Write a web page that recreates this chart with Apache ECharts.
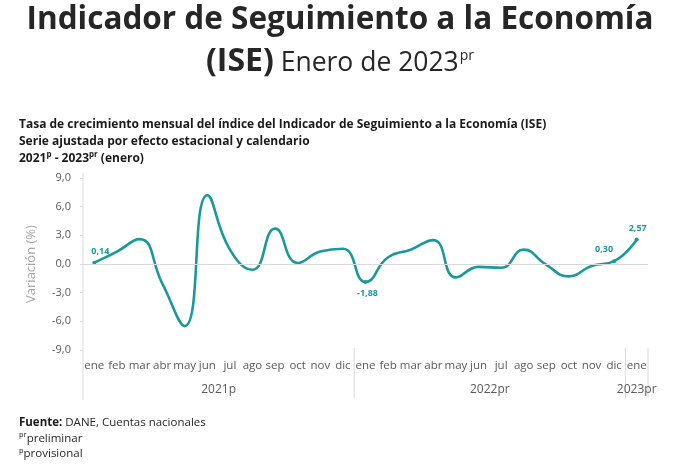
<!DOCTYPE html>
<html><head><meta charset="utf-8">
<script src="https://cdn.jsdelivr.net/npm/echarts@6/dist/echarts.min.js"></script>
<style>html,body{margin:0;padding:0;background:#fff}#c{width:680px;height:468px}</style>
</head><body><div id="c"></div>
<script>
// ---- data ----
const months = ['ene','feb','mar','abr','may','jun','jul','ago','sep','oct','nov','dic',
                'ene','feb','mar','abr','may','jun','jul','ago','sep','oct','nov','dic','ene'];
const values2021 = [0.14, 1.3, 2.6, -2.0, -6.5, 7.2, 1.5, -0.6, 3.7, 0.1, 1.3, 1.6];
const values2022 = [-1.88, 0.7, 1.5, 2.5, -1.4, -0.3, -0.4, 1.5, -0.1, -1.3, -0.2, 0.30];
const values2023 = [2.57];
const yearLabels = ['2021p', '2022pr', '2023pr'];
const yearFirst = [0, 12, 24];
const yearLast = [11, 23, 24];
const labeledIdx = [0, 12, 23, 24];
const yTicks = [-9, 9, 3]; // min, max, interval

const values = values2021.concat(values2022, values2023);
const teal = '#19999b';
const labelPos = {0: ['top', [6, 0]], 12: ['bottom', [2, 0]], 23: ['top', [-10, 0]], 24: ['top', [1, 0]]};

const seriesData = values.map((v, i) => {
  if (labeledIdx.includes(i)) {
    return {value: v, symbolSize: 4,
      label: {show: true, position: labelPos[i][0], offset: labelPos[i][1],
        formatter: (p) => p.value.toFixed(2).replace('.', ','),
        color: teal, fontWeight: 'bold', fontSize: 9, fontFamily: 'Open Sans'}};
  }
  return {value: v, symbolSize: 0};
});

const chart = echarts.init(document.getElementById('c'));
const gridLeft = 83, gridTop = 178, gridW = 565, gridH = 172;
const F = 'Open Sans';
chart.setOption({
  animation: false,
  textStyle: {fontFamily: F},
  title: [
    {text: 'Indicador de Seguimiento a la Economía', left: 'center', top: 4, padding: 0,
     textStyle: {fontSize: 31.5, fontWeight: 'bold', color: '#262626', fontFamily: F}},
    {text: '{b|(ISE)}{n| Enero de 2023}{s|pr}', left: 'center', top: 38, padding: 0,
     textStyle: {fontWeight: 'normal', rich: {
       b: {fontSize: 32, fontWeight: 'bold', color: '#262626', fontFamily: F, verticalAlign: 'bottom', lineHeight: 40},
       n: {fontSize: 26.5, fontWeight: 'normal', color: '#262626', fontFamily: F, verticalAlign: 'bottom', lineHeight: 40, padding: [0, 0, 1, 0]},
       s: {fontSize: 14, fontWeight: 'normal', color: '#262626', fontFamily: F, verticalAlign: 'bottom', lineHeight: 20, padding: [0, 0, 15, 1]}}}},
    {text: '{t|Tasa de crecimiento mensual del índice del Indicador de Seguimiento a la Economía (ISE)}\n{t|Serie ajustada por efecto estacional y calendario}\n{t|2021}{s|p}{t| - 2023}{s|pr}{t| (enero)}',
     left: 19, top: 116, padding: 0,
     textStyle: {rich: {
       t: {fontSize: 12, fontWeight: 'bold', color: '#1a1a1a', fontFamily: F, lineHeight: 17},
       s: {fontSize: 8, fontWeight: 'bold', color: '#1a1a1a', fontFamily: F, lineHeight: 17, padding: [0, 0, 7, 0]}}}},
    {text: '{b|Fuente:}{n| DANE, Cuentas nacionales}\n{s|pr}{n|preliminar}\n{s|p}{n|provisional}',
     left: 19, top: 415, padding: 0,
     textStyle: {fontWeight: 'normal', rich: {
       b: {fontSize: 11.5, fontWeight: 'bold', color: '#1a1a1a', fontFamily: F, lineHeight: 15.5},
       n: {fontSize: 11.5, fontWeight: 'normal', color: '#262626', fontFamily: F, lineHeight: 15.5},
       s: {fontSize: 7.5, fontWeight: 'normal', color: '#262626', fontFamily: F, lineHeight: 15.5, padding: [0, 0, 6, 0]}}}}
  ],
  grid: {left: gridLeft, top: gridTop, width: gridW, height: gridH},
  xAxis: {
    type: 'category', data: months, boundaryGap: true,
    axisLine: {show: false}, axisTick: {show: false},
    axisLabel: {color: '#595959', fontSize: 11.5, margin: 10, interval: 0}
  },
  yAxis: {
    type: 'value', min: yTicks[0], max: yTicks[1], interval: yTicks[2],
    name: 'Variación (%)', nameLocation: 'middle', nameGap: 45, nameRotate: 90,
    nameTextStyle: {color: '#a6a6a6', fontSize: 13},
    axisLine: {show: false},
    axisTick: {show: true, length: 3, lineStyle: {color: '#d9d9d9'}},
    splitLine: {show: false},
    axisLabel: {color: '#595959', fontSize: 11, margin: 12,
      formatter: (v) => v.toFixed(1).replace('.', ',')}
  },
  series: [{
    type: 'line', data: seriesData, smooth: 0.5,
    symbol: 'circle', showSymbol: true,
    itemStyle: {color: teal},
    lineStyle: {color: teal, width: 2.6},
    markLine: {silent: true, symbol: 'none', label: {show: false},
      lineStyle: {color: '#d9d9d9', width: 1, type: 'solid'},
      data: [{yAxis: 0}]}
  }]
});

// separators and year labels, positioned via the axis scale
const x0 = chart.convertToPixel({xAxisIndex: 0}, 0);
const x1 = chart.convertToPixel({xAxisIndex: 0}, 1);
const bw = x1 - x0;
const gfx = [];
const lineStyle = {stroke: '#d9d9d9', lineWidth: 1};
gfx.push({type: 'line', shape: {x1: x0 - bw / 2, y1: gridTop - 5, x2: x0 - bw / 2, y2: 400}, style: lineStyle, silent: true});
yearFirst.forEach((f, k) => {
  const xs = chart.convertToPixel({xAxisIndex: 0}, f);
  const xe = chart.convertToPixel({xAxisIndex: 0}, yearLast[k]);
  if (k > 0) gfx.push({type: 'line', shape: {x1: xs - bw / 2, y1: 348, x2: xs - bw / 2, y2: 398}, style: lineStyle, silent: true});
  if (k === yearFirst.length - 1) gfx.push({type: 'line', shape: {x1: xe + bw / 2, y1: 348, x2: xe + bw / 2, y2: 398}, style: lineStyle, silent: true});
  gfx.push({type: 'text', x: (xs + xe) / 2, y: 390, silent: true,
    style: {text: yearLabels[k], fill: '#595959', font: '12px "Open Sans"', align: 'center', verticalAlign: 'middle'}});
});
chart.setOption({graphic: gfx});
</script></body></html>
